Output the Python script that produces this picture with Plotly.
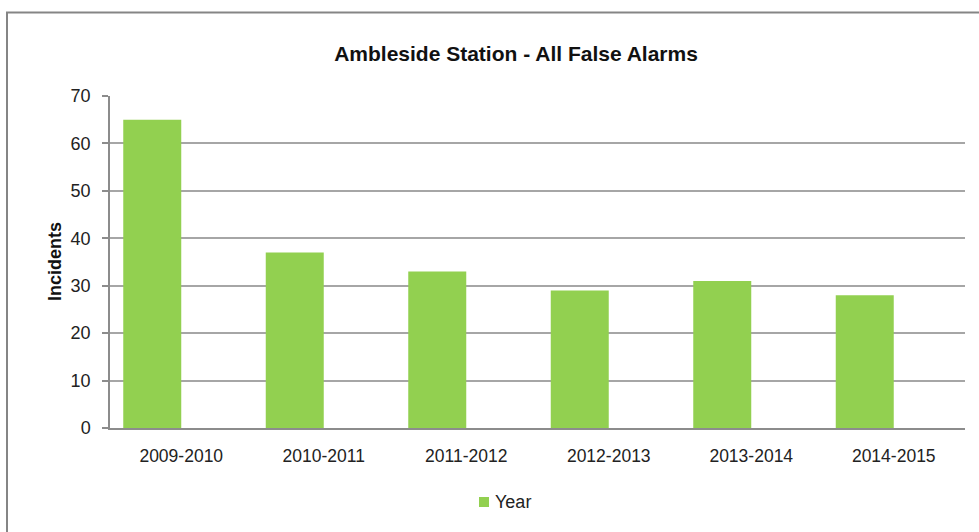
import plotly.graph_objects as go

categories = ["2009-2010", "2010-2011", "2011-2012", "2012-2013", "2013-2014", "2014-2015"]
incidents = [65, 37, 33, 29, 31, 28]
empty_series = [None, None, None, None, None, None]
y_ticks = [0, 10, 20, 30, 40, 50, 60, 70]

W, H = 979, 532
L, R, T, B = 110, 14, 96, 104
pw, ph = W - L - R, H - T - B

def px_x(x):
    return (x - L) / pw

def px_y(y):
    return (H - B - y) / ph

FONT = "Liberation Sans, Arial, sans-serif"

fig = go.Figure()
fig.add_trace(go.Bar(x=categories, y=incidents, name="Year",
                     marker=dict(color="#92D050", line=dict(width=0))))
fig.add_trace(go.Bar(x=categories, y=empty_series, name="",
                     showlegend=False, marker=dict(color="#92D050")))

fig.update_layout(
    width=W, height=H,
    margin=dict(l=L, r=R, t=T, b=B),
    paper_bgcolor="white", plot_bgcolor="white",
    barmode="group", bargap=0.186, bargroupgap=0,
    font=dict(family=FONT, color="#222222"),
    title=dict(text="<b>Ambleside Station - All False Alarms</b>",
               font=dict(size=21, color="#111111"),
               x=516 / W, xanchor="center", y=1 - 54 / H, yanchor="middle",
               xref="container", yref="container"),
    showlegend=False,
    xaxis=dict(type="category", showgrid=False, showline=True,
               linecolor="#8c8c8c", linewidth=1.5,
               ticks="", tickfont=dict(size=17.5, color="#222222"),
               ticklabelstandoff=11),
    yaxis=dict(range=[0, 70], tickvals=y_ticks, showgrid=True,
               gridcolor="#a6a6a6", gridwidth=1.5,
               showline=True, linecolor="#8c8c8c", linewidth=1.5,
               ticks="outside", ticklen=6, tickcolor="#8c8c8c", tickwidth=1.5,
               tickfont=dict(size=18, color="#222222"),
               ticklabelstandoff=8, zeroline=False),
    annotations=[
        dict(text="<b>Incidents</b>", x=px_x(55), y=0.5,
             xref="paper", yref="paper", textangle=-90,
             showarrow=False, xanchor="center", yanchor="middle",
             font=dict(size=18, color="#111111")),
        dict(text="Year", x=px_x(493), y=px_y(502),
             xref="paper", yref="paper", showarrow=False,
             xanchor="left", yanchor="middle",
             font=dict(size=18, color="#222222")),
    ],
    shapes=[
        dict(type="rect", xref="paper", yref="paper",
             x0=px_x(7), x1=px_x(995), y0=px_y(12.5), y1=px_y(560),
             line=dict(color="#858585", width=2), fillcolor="rgba(0,0,0,0)",
             layer="below"),
        dict(type="rect", xref="paper", yref="paper",
             x0=px_x(479), x1=px_x(489), y0=px_y(497), y1=px_y(507),
             line=dict(width=0), fillcolor="#92D050"),
    ],
)

fig.write_html("out.html", config={"displayModeBar": False},
               post_script="document.body.style.margin='0';")
